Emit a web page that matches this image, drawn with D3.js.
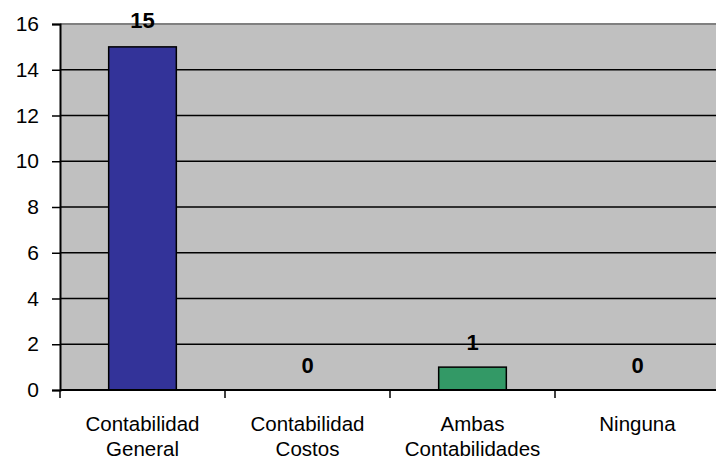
<!DOCTYPE html>
<html>
<head>
<meta charset="utf-8">
<script src="https://cdn.jsdelivr.net/npm/d3@7"></script>
<style>
  html, body { margin: 0; padding: 0; background: #fff; }
  svg { display: block; font-family: "Liberation Sans", Arial, sans-serif; }
</style>
</head>
<body>
<div id="chart"></div>
<script>
// Categories, values and ticks
const categories = [['Contabilidad', 'General'], ['Contabilidad', 'Costos'], ['Ambas', 'Contabilidades'], ['Ninguna']];
const values = [15, 0, 1, 0];
const barColors = ['#333399', '#333399', '#339966', '#339966'];
const yTicks = [0, 2, 4, 6, 8, 10, 12, 14, 16];

const width = 716, height = 461;
const plot = { left: 60, top: 24, right: 720, bottom: 390 };

const svg = d3.select('#chart')
  .append('svg')
  .attr('width', width)
  .attr('height', height);

const x = d3.scaleBand()
  .domain(d3.range(categories.length))
  .range([plot.left, plot.right])
  .paddingInner(0.59)
  .paddingOuter(0.295);

const xStep = d3.scaleLinear()
  .domain([0, categories.length])
  .range([plot.left, plot.right]);

const y = d3.scaleLinear()
  .domain([0, 16])
  .range([plot.bottom, plot.top]);

// plot background
svg.append('rect')
  .attr('x', plot.left)
  .attr('y', plot.top)
  .attr('width', plot.right - plot.left)
  .attr('height', plot.bottom - plot.top)
  .attr('fill', '#c0c0c0');

// gridlines
svg.append('g')
  .selectAll('line')
  .data(yTicks.filter(t => t > 0 && t < 16))
  .join('line')
  .attr('x1', plot.left)
  .attr('x2', plot.right)
  .attr('y1', d => y(d))
  .attr('y2', d => y(d))
  .attr('stroke', '#000')
  .attr('stroke-width', 1.5);

// top border
svg.append('line')
  .attr('x1', plot.left).attr('x2', plot.right)
  .attr('y1', plot.top).attr('y2', plot.top)
  .attr('stroke', '#808080')
  .attr('stroke-width', 2);

// bars
svg.append('g')
  .selectAll('rect')
  .data(values)
  .join('rect')
  .attr('x', (d, i) => x(i))
  .attr('width', x.bandwidth())
  .attr('y', d => y(d))
  .attr('height', d => y(0) - y(d))
  .attr('fill', (d, i) => barColors[i])
  .attr('stroke', '#000')
  .attr('stroke-width', d => d > 0 ? 1.5 : 0);

// y axis
const yAxis = svg.append('g')
  .attr('transform', `translate(${plot.left},0)`)
  .call(d3.axisLeft(y).tickValues(yTicks).tickSize(8).tickPadding(13));
yAxis.select('.domain').attr('stroke', '#000').attr('stroke-width', 2);
yAxis.selectAll('.tick line').attr('stroke', '#000').attr('stroke-width', 1.5);
yAxis.selectAll('.tick text')
  .attr('fill', '#000')
  .style('font-size', '21px')
  .style('font-family', '"Liberation Sans", Arial, sans-serif');

// x axis line and category ticks
svg.append('line')
  .attr('x1', plot.left).attr('x2', plot.right)
  .attr('y1', plot.bottom).attr('y2', plot.bottom)
  .attr('stroke', '#000')
  .attr('stroke-width', 2);

svg.append('g')
  .selectAll('line')
  .data(d3.range(categories.length + 1))
  .join('line')
  .attr('x1', d => xStep(d))
  .attr('x2', d => xStep(d))
  .attr('y1', plot.bottom)
  .attr('y2', plot.bottom + 8)
  .attr('stroke', '#000')
  .attr('stroke-width', 1.5);

// category labels
const labels = svg.append('g')
  .selectAll('text')
  .data(categories)
  .join('text')
  .attr('text-anchor', 'middle')
  .attr('fill', '#000')
  .style('font-size', '20.5px');
labels.selectAll('tspan')
  .data((d, i) => d.map(line => ({ line, i })))
  .join('tspan')
  .attr('x', d => x(d.i) + x.bandwidth() / 2)
  .attr('y', (d, j) => 431 + j * 25)
  .text(d => d.line);

// value labels; the tallest one sits on the top border
const maxVal = d3.max(values);
svg.append('g')
  .selectAll('text')
  .data(values)
  .join('text')
  .attr('x', (d, i) => x(i) + x.bandwidth() / 2)
  .attr('y', d => d === maxVal ? y.range()[1] + 4 : y(d) - 17)
  .attr('text-anchor', 'middle')
  .attr('fill', '#000')
  .style('font-size', '22px')
  .style('font-weight', 'bold')
  .text(d => d);
</script>
</body>
</html>
